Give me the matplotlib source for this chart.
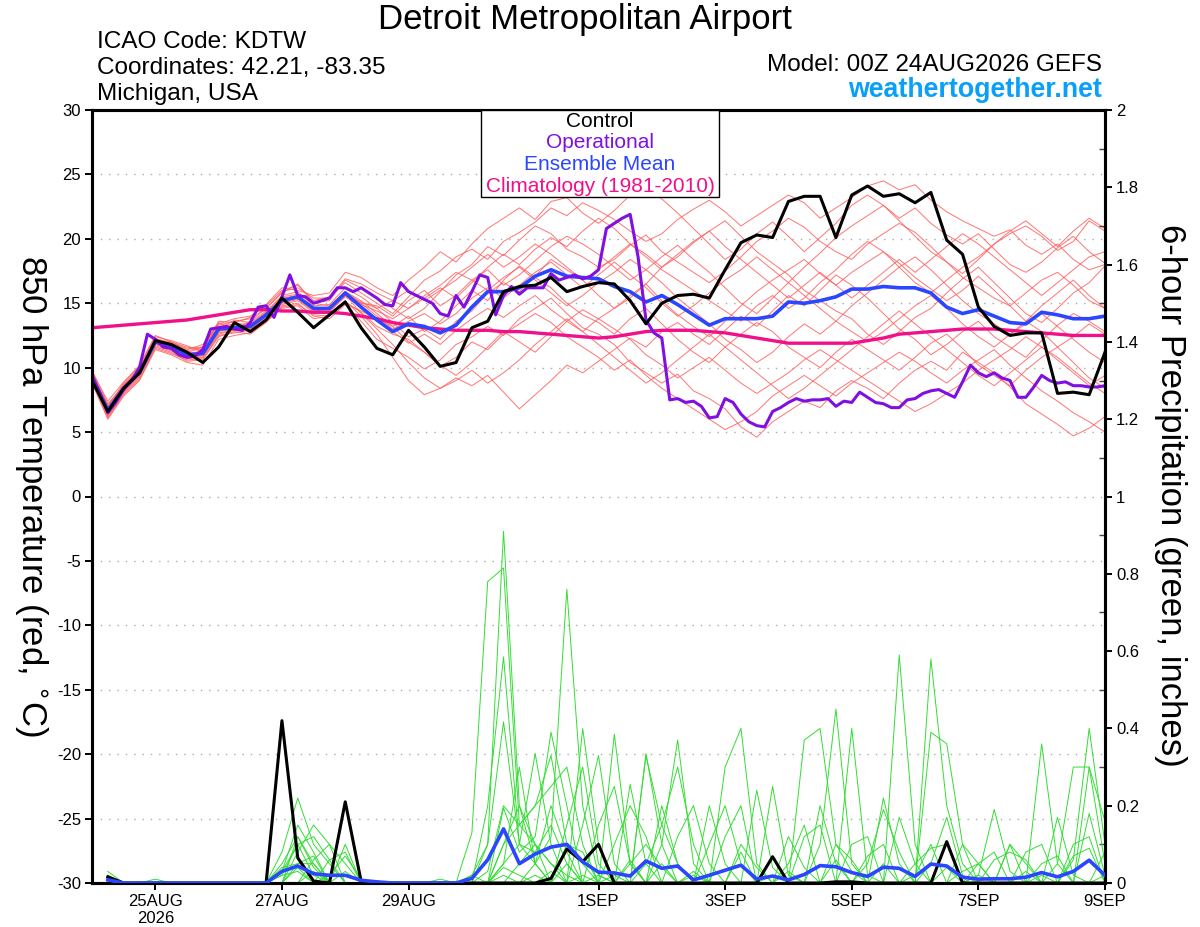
import numpy as np
import matplotlib
matplotlib.use('Agg')
import matplotlib.pyplot as plt
from matplotlib.patches import Rectangle

plt.rcParams['font.family'] = ['Liberation Sans', 'DejaVu Sans']
plt.rcParams['axes.unicode_minus'] = False

# forecast hours from 00Z 24AUG2026
hours6 = np.arange(0, 385, 6)        # temperature, 6-hourly
hours3 = np.arange(0, 385, 3)        # operational run, 3-hourly
hours_p = np.arange(6, 385, 6)       # 6-hour precipitation totals

tick_hours = [24, 72, 120, 192, 240, 288, 336, 384]
tick_labels = ['25AUG\n2026', '27AUG', '29AUG', '1SEP', '3SEP', '5SEP', '7SEP', '9SEP']

# ---- 850 hPa temperature (C) ----
control_t = [9.0, 6.6, 8.4, 9.6, 12.1, 11.8, 11.2, 10.4, 11.6, 13.5, 12.8, 13.7, 15.4, 14.3, 13.1, 14.1, 15.1,
             13.1, 11.5, 11.0, 12.9, 11.6, 10.1, 10.4, 13.1, 13.6, 15.9, 16.3, 16.4, 17.0, 15.9, 16.3, 16.6,
             16.5, 15.2, 13.4, 15.0, 15.6, 15.7, 15.4, 17.6, 19.7, 20.3, 20.1, 22.9, 23.3, 23.3, 20.1, 23.4,
             24.1, 23.3, 23.5, 22.8, 23.6, 19.9, 18.8, 14.7, 13.2, 12.5, 12.7, 12.7, 8.0, 8.1, 7.9, 11.2]

mean_t = [9.3, 6.7, 8.4, 9.6, 12.0, 11.6, 11.0, 11.1, 13.0, 13.1, 13.2, 14.1, 15.2, 15.5, 14.6, 14.6, 15.8,
          14.7, 13.7, 12.8, 13.4, 13.2, 12.7, 13.3, 14.7, 15.9, 15.9, 16.2, 17.1, 17.6, 17.1, 17.0, 16.9,
          16.3, 15.9, 15.1, 15.6, 14.9, 14.1, 13.3, 13.8, 13.8, 13.8, 14.0, 15.1, 15.0, 15.2, 15.5, 16.1,
          16.1, 16.3, 16.2, 16.2, 15.8, 14.7, 14.2, 14.5, 14.0, 13.5, 13.4, 14.3, 14.1, 13.8, 13.8, 14.0]

clim_t = [13.1, 13.2, 13.3, 13.4, 13.5, 13.6, 13.7, 13.9, 14.1, 14.3, 14.5, 14.5, 14.4, 14.4, 14.3, 14.3, 14.2,
          14.0, 13.8, 13.5, 13.3, 13.1, 13.0, 12.9, 12.9, 12.9, 12.8, 12.8, 12.7, 12.6, 12.5, 12.4, 12.3,
          12.4, 12.6, 12.8, 12.9, 12.9, 12.9, 12.8, 12.7, 12.5, 12.3, 12.1, 11.9, 11.9, 11.9, 11.9, 11.9,
          12.1, 12.3, 12.6, 12.7, 12.8, 12.9, 13.0, 13.0, 13.0, 12.9, 12.8, 12.7, 12.6, 12.5, 12.5, 12.5]

oper_t = [9.4, 8.0, 6.5, 7.3, 8.3, 9.0, 10.0, 12.6, 12.2, 11.6,
          11.5, 11.0, 10.8, 10.9, 11.4, 13.0, 13.1, 13.2, 13.0, 12.9,
          13.5, 14.7, 14.8, 13.9, 15.5, 17.2, 15.6, 15.5, 15.0, 15.2,
          15.4, 16.2, 16.2, 15.9, 16.2, 15.8, 15.4, 14.9, 14.8, 16.6,
          15.9, 15.6, 15.3, 15.0, 14.2, 14.0, 15.6, 14.7, 15.9, 17.2,
          17.0, 14.1, 15.6, 16.3, 15.7, 16.2, 16.2, 16.2, 17.3, 16.8,
          17.0, 17.2, 16.9, 17.1, 17.6, 20.8, 21.2, 21.6, 21.9, 18.6,
          13.7, 12.7, 12.3, 7.5, 7.6, 7.3, 7.4, 7.0, 6.1, 6.2,
          7.6, 7.3, 6.4, 5.8, 5.5, 5.4, 6.6, 6.9, 7.3, 7.6,
          7.4, 7.5, 7.5, 7.6, 7.0, 7.4, 7.3, 8.1, 7.7, 7.3,
          7.2, 6.9, 6.9, 7.5, 7.6, 8.0, 8.2, 8.3, 8.0, 7.7,
          8.9, 10.2, 9.6, 9.3, 9.6, 9.2, 9.0, 7.7, 7.7, 8.5,
          9.4, 9.0, 8.8, 8.9, 8.6, 8.6, 8.5, 8.5, 8.6]

mem01 = [9.5, 7.0, 8.8, 10.2, 12.5, 12.0, 11.4, 11.8, 13.4, 13.8, 14.0, 14.8, 16.0, 16.4, 15.2, 15.5, 16.6,
         15.8, 15.0, 14.2, 15.5, 16.8, 17.5, 18.6, 19.2, 18.4, 19.8, 20.5, 21.3, 22.4, 21.8, 22.8, 22.2,
         21.5, 20.6, 19.8, 20.4, 21.5, 22.3, 23.0, 22.1, 21.0, 21.8, 22.6, 23.4, 22.8, 21.6, 22.4, 23.2,
         24.1, 24.5, 23.8, 24.2, 23.0, 22.1, 21.4, 20.8, 20.2, 20.7, 19.5, 18.8, 19.6, 18.4, 17.6, 18.0]
mem02 = [9.0, 6.2, 8.0, 9.2, 11.6, 11.2, 10.5, 10.6, 12.4, 12.8, 12.6, 13.5, 14.8, 15.0, 14.0, 13.8, 14.9,
         13.6, 12.2, 11.5, 10.8, 9.9, 10.6, 11.8, 12.4, 13.2, 12.5, 13.8, 14.6, 15.4, 14.2, 13.1, 12.6,
         11.8, 10.4, 9.6, 8.8, 9.5, 8.2, 7.6, 6.8, 5.4, 4.6, 5.8, 6.6, 7.4, 6.9, 8.2, 9.0,
         8.4, 7.6, 8.8, 9.8, 10.5, 9.8, 11.2, 10.4, 9.6, 8.5, 7.2, 6.4, 5.6, 4.7, 5.3, 6.2]
mem03 = [9.8, 7.2, 8.6, 9.8, 12.2, 12.0, 11.6, 11.4, 13.5, 13.0, 13.6, 14.6, 15.8, 16.5, 15.0, 15.2, 16.8,
         16.2, 15.4, 14.6, 13.8, 14.6, 15.9, 17.2, 18.0, 19.4, 18.7, 19.9, 21.0, 20.4, 19.2, 18.6, 17.8,
         18.4, 19.5, 20.3, 19.0, 18.2, 17.4, 16.6, 17.5, 18.6, 19.8, 20.6, 21.6, 20.9, 19.8, 19.0, 18.4,
         19.6, 20.4, 21.2, 20.5, 19.4, 18.2, 17.3, 18.4, 19.6, 20.4, 21.0, 20.2, 19.1, 19.8, 21.4, 20.6]
mem04 = [9.2, 6.8, 8.2, 9.4, 11.8, 11.4, 10.8, 10.9, 12.6, 12.9, 13.0, 13.8, 14.9, 15.2, 14.3, 14.2, 15.2,
         14.0, 12.6, 10.8, 9.0, 7.9, 8.4, 9.2, 8.6, 9.4, 8.1, 6.8, 7.9, 9.0, 10.2, 9.6, 10.5,
         11.4, 12.3, 11.6, 12.8, 13.5, 12.6, 11.8, 12.9, 14.0, 13.2, 14.4, 15.6, 14.8, 16.0, 17.2, 16.4,
         15.4, 14.2, 13.0, 12.2, 11.0, 11.8, 12.8, 13.6, 12.4, 11.6, 10.8, 12.1, 13.3, 14.2, 13.6, 12.8]
mem05 = [9.6, 6.5, 8.4, 9.9, 12.3, 11.8, 11.2, 11.5, 13.2, 13.4, 13.4, 14.3, 15.6, 15.9, 14.8, 14.9, 16.2,
         15.5, 14.6, 13.5, 12.4, 13.0, 12.2, 13.6, 14.4, 15.8, 16.6, 15.9, 17.1, 18.4, 17.6, 16.8, 15.6,
         14.6, 15.4, 16.5, 17.8, 18.6, 19.7, 20.6, 21.4, 20.2, 19.0, 18.1, 17.2, 16.0, 15.2, 14.4, 13.8,
         12.6, 11.8, 12.8, 13.9, 14.6, 15.8, 16.9, 17.8, 16.6, 15.4, 14.2, 13.5, 14.6, 15.8, 16.6, 17.9]
mem06 = [8.8, 6.0, 7.8, 9.0, 11.4, 11.0, 10.4, 10.2, 12.2, 12.5, 12.7, 13.6, 14.6, 14.8, 13.8, 14.0, 15.0,
         14.4, 13.8, 13.2, 14.0, 12.8, 13.6, 14.8, 16.0, 15.2, 16.8, 17.9, 17.0, 16.2, 15.0, 14.1, 13.5,
         12.6, 13.8, 14.6, 13.4, 12.2, 11.2, 10.4, 11.6, 12.6, 13.5, 12.8, 11.6, 10.8, 10.0, 11.2, 12.2,
         11.4, 10.6, 9.8, 10.8, 11.9, 12.6, 11.5, 10.2, 9.4, 8.6, 9.8, 10.8, 11.6, 10.4, 9.2, 8.4]
mem07 = [9.4, 6.9, 8.7, 10.0, 12.0, 11.9, 11.3, 11.6, 13.6, 13.5, 13.9, 14.9, 16.2, 16.0, 15.6, 15.8, 17.4,
         17.0, 16.2, 15.6, 16.8, 17.8, 19.0, 18.2, 19.6, 20.8, 21.6, 22.4, 21.5, 22.9, 23.2, 22.0, 21.2,
         22.2, 23.4, 24.0, 23.1, 22.0, 20.8, 19.6, 18.4, 19.2, 20.4, 21.3, 20.2, 19.0, 20.1, 21.2, 22.6,
         23.4, 22.6, 21.4, 20.2, 19.0, 18.2, 17.0, 16.2, 15.4, 14.8, 15.8, 16.8, 17.4, 16.4, 15.2, 14.6]
mem08 = [9.1, 6.4, 8.2, 9.5, 11.9, 11.5, 10.9, 11.0, 12.9, 13.2, 13.1, 14.0, 15.0, 15.3, 14.4, 14.4, 15.5,
         14.8, 13.6, 12.8, 11.9, 12.6, 11.8, 12.9, 13.8, 14.6, 13.9, 14.8, 15.6, 14.5, 13.6, 12.8, 13.8,
         14.6, 15.6, 16.5, 15.2, 14.1, 13.2, 12.4, 13.6, 14.8, 15.9, 16.8, 17.6, 18.4, 17.3, 16.4, 17.4,
         18.2, 19.0, 18.1, 17.0, 16.1, 15.2, 16.0, 17.1, 16.0, 14.8, 13.6, 12.8, 11.6, 12.4, 13.4, 12.6]
mem09 = [9.7, 7.4, 8.9, 10.1, 12.4, 12.1, 11.7, 11.2, 13.0, 13.7, 13.5, 14.4, 15.5, 15.7, 15.0, 14.8, 15.9,
         15.2, 14.2, 13.2, 12.0, 11.2, 10.1, 10.8, 12.0, 11.4, 12.6, 13.4, 14.2, 13.5, 12.4, 11.6, 10.8,
         9.8, 10.6, 9.4, 8.4, 7.6, 6.8, 6.0, 5.2, 5.8, 6.6, 7.8, 8.6, 9.4, 8.6, 7.8, 8.8,
         9.6, 10.4, 11.2, 10.5, 9.6, 8.8, 9.8, 10.6, 11.4, 10.2, 9.2, 8.2, 7.4, 6.5, 5.8, 5.0]
mem10 = [9.3, 6.6, 8.5, 9.7, 12.1, 11.7, 11.1, 11.3, 13.1, 13.3, 13.3, 14.2, 15.4, 15.6, 14.7, 14.5, 15.9,
         15.0, 14.8, 14.0, 15.2, 16.0, 14.8, 15.6, 16.8, 17.6, 16.4, 17.2, 18.3, 19.4, 20.2, 19.6, 18.8,
         17.8, 16.8, 17.6, 18.6, 19.5, 18.4, 17.4, 16.2, 15.0, 14.2, 15.4, 16.6, 17.8, 18.9, 20.1, 21.0,
         21.8, 22.6, 21.6, 22.4, 21.2, 20.3, 19.6, 20.4, 19.2, 18.0, 17.4, 18.2, 19.3, 20.2, 19.0, 18.1]
mem11 = [8.9, 6.1, 7.9, 9.1, 11.5, 11.1, 10.6, 10.7, 12.5, 12.7, 12.9, 13.7, 14.7, 14.9, 14.1, 14.0, 15.1,
         14.3, 13.2, 12.6, 12.2, 11.2, 10.2, 9.4, 10.4, 11.6, 12.8, 12.0, 11.2, 12.4, 13.6, 14.5, 13.8,
         13.0, 12.2, 11.0, 10.2, 9.2, 10.0, 10.8, 9.8, 8.8, 8.0, 8.8, 9.6, 10.6, 11.4, 10.6, 9.8,
         9.0, 8.2, 7.4, 6.6, 7.2, 8.0, 8.8, 9.8, 10.6, 11.4, 12.4, 11.6, 10.8, 9.8, 8.8, 8.0]
mem12 = [9.5, 7.1, 8.6, 9.9, 12.2, 11.9, 11.5, 11.6, 13.3, 13.6, 13.8, 14.6, 15.9, 16.2, 15.4, 15.4, 16.9,
         16.5, 15.8, 15.2, 14.6, 15.4, 16.2, 15.4, 16.6, 17.8, 18.8, 18.0, 19.2, 20.1, 19.4, 20.6, 21.6,
         20.8, 19.6, 18.6, 17.6, 16.8, 16.0, 15.2, 14.4, 13.6, 14.8, 15.6, 14.6, 15.4, 16.6, 17.6, 18.8,
         19.8, 19.0, 17.8, 16.6, 15.8, 16.8, 17.8, 18.6, 19.6, 20.6, 21.4, 20.4, 19.4, 20.6, 21.6, 20.8]
mem13 = [9.2, 6.3, 8.1, 9.3, 11.7, 11.3, 10.7, 10.8, 12.7, 12.9, 13.0, 13.9, 15.1, 15.4, 14.5, 14.3, 15.6,
         14.9, 14.4, 13.8, 14.6, 15.6, 16.4, 17.4, 16.8, 16.0, 17.0, 17.8, 16.8, 15.8, 14.8, 15.6, 16.6,
         17.4, 18.4, 17.6, 16.6, 15.4, 14.4, 13.4, 12.2, 11.4, 10.4, 11.2, 12.4, 13.4, 12.6, 13.6, 14.8,
         15.8, 16.8, 17.8, 18.6, 17.6, 16.4, 15.2, 14.2, 13.4, 12.6, 13.4, 14.2, 13.2, 12.2, 11.2, 10.4]
mem14 = [9.6, 6.8, 8.3, 9.6, 11.9, 11.6, 11.1, 11.2, 12.8, 13.0, 13.2, 14.2, 15.2, 15.6, 14.6, 14.7, 15.6,
         15.0, 14.0, 13.0, 13.6, 14.2, 13.4, 14.2, 15.4, 16.2, 15.4, 16.4, 17.4, 18.2, 17.2, 16.2, 17.2,
         18.2, 17.2, 16.2, 15.0, 14.0, 14.8, 15.8, 16.8, 17.6, 18.6, 17.6, 16.6, 15.6, 14.6, 13.6, 12.8,
         12.0, 12.8, 13.8, 14.8, 15.6, 14.6, 13.4, 12.4, 11.6, 12.6, 13.6, 14.8, 15.8, 16.8, 15.6, 14.6]
mem15 = [9.0, 6.6, 8.6, 9.8, 12.0, 11.7, 11.0, 11.0, 13.0, 13.2, 13.3, 14.1, 15.3, 15.5, 14.7, 14.6, 15.7,
         15.1, 14.6, 15.2, 16.0, 15.2, 16.0, 16.8, 17.8, 18.8, 17.8, 18.6, 19.6, 18.8, 17.8, 16.8, 17.6,
         18.6, 19.6, 18.8, 17.8, 18.8, 19.8, 20.6, 19.4, 18.4, 17.4, 16.4, 15.4, 16.4, 17.4, 16.4, 15.4,
         16.4, 17.4, 18.4, 17.4, 18.4, 19.4, 20.4, 19.6, 18.6, 17.6, 16.6, 15.6, 16.6, 17.6, 18.6, 19.0]
mem16 = [9.4, 6.7, 8.4, 9.6, 12.0, 11.5, 10.9, 11.0, 12.9, 13.0, 13.1, 14.0, 15.1, 15.4, 14.5, 14.5, 15.7,
         14.2, 13.0, 11.8, 10.4, 9.2, 8.4, 9.0, 9.8, 8.8, 9.6, 10.6, 11.8, 12.8, 13.8, 12.8, 11.8,
         10.8, 9.8, 8.8, 9.6, 10.6, 11.6, 12.6, 11.6, 10.6, 9.6, 8.6, 7.6, 8.4, 9.4, 10.4, 11.4,
         12.4, 13.4, 14.4, 13.4, 12.4, 11.4, 10.4, 9.4, 8.6, 9.6, 10.6, 11.6, 10.6, 9.6, 8.6, 9.4]
temp_members = [mem01, mem02, mem03, mem04, mem05, mem06, mem07, mem08,
                mem09, mem10, mem11, mem12, mem13, mem14, mem15, mem16]

# ---- 6-hour precipitation (inches), periods ending 06Z 24AUG ... 00Z 9SEP ----
control_p = [0.016, 0, 0, 0, 0, 0, 0, 0,
             0, 0, 0, 0.42, 0.065, 0.005, 0, 0.21,
             0.005, 0, 0, 0, 0, 0, 0, 0,
             0, 0, 0, 0, 0.012, 0.088, 0.055, 0.1,
             0, 0, 0, 0, 0, 0, 0, 0,
             0, 0, 0.068, 0, 0, 0, 0.003, 0.003,
             0, 0, 0, 0, 0, 0.107, 0, 0,
             0, 0, 0, 0, 0, 0, 0, 0]
mean_p = [0.008, 0, 0, 0, 0, 0, 0, 0,
          0, 0, 0, 0.03, 0.044, 0.024, 0.02, 0.02,
          0.007, 0.003, 0, 0, 0, 0, 0, 0.012,
          0.06, 0.14, 0.05, 0.075, 0.093, 0.1, 0.055, 0.028,
          0.026, 0.018, 0.057, 0.038, 0.044, 0.008, 0.02, 0.033,
          0.046, 0.01, 0.018, 0.008, 0.022, 0.045, 0.042, 0.027,
          0.017, 0.041, 0.038, 0.017, 0.049, 0.044, 0.015, 0.01,
          0.011, 0.011, 0.015, 0.027, 0.016, 0.03, 0.059, 0.02]

pm01 = [0.02, 0, 0, 0, 0, 0, 0, 0,
        0, 0, 0, 0.05, 0.12, 0.04, 0, 0,
        0, 0, 0, 0, 0, 0, 0, 0.02,
        0.1, 0.91, 0.2, 0.1, 0.05, 0.02, 0, 0,
        0, 0.05, 0.1, 0.04, 0, 0, 0, 0,
        0.08, 0, 0, 0, 0, 0.1, 0.45, 0.05,
        0, 0, 0, 0, 0.05, 0.17, 0.02, 0,
        0, 0, 0, 0, 0, 0.06, 0.4, 0.1]
pm02 = [0.01, 0, 0, 0, 0, 0, 0, 0,
        0, 0, 0, 0.08, 0.22, 0.1, 0.05, 0,
        0, 0, 0, 0, 0, 0, 0, 0.13,
        0.78, 0.815, 0.15, 0.2, 0.33, 0.1, 0.08, 0,
        0, 0, 0.33, 0.15, 0.05, 0, 0, 0,
        0, 0, 0, 0, 0.37, 0.4, 0.1, 0.03,
        0, 0, 0, 0, 0.39, 0.36, 0.1, 0,
        0, 0, 0, 0, 0.05, 0.3, 0.3, 0.05]
pm03 = [0, 0, 0, 0, 0, 0, 0, 0,
        0, 0, 0, 0.03, 0.15, 0.08, 0, 0.1,
        0, 0, 0, 0, 0, 0, 0, 0,
        0.2, 0.585, 0.1, 0.05, 0.12, 0.76, 0.2, 0.02,
        0, 0, 0, 0.1, 0.37, 0.05, 0, 0,
        0, 0, 0, 0, 0, 0, 0, 0.4,
        0.02, 0, 0, 0, 0, 0, 0, 0.02,
        0.19, 0.03, 0, 0, 0, 0, 0, 0.02]
pm04 = [0, 0, 0, 0, 0, 0, 0, 0,
        0, 0, 0, 0, 0.08, 0.15, 0.1, 0,
        0, 0, 0, 0, 0, 0, 0, 0,
        0.1, 0.417, 0.1, 0.335, 0.1, 0, 0.4, 0.1,
        0, 0, 0, 0, 0, 0, 0, 0.3,
        0.4, 0.05, 0, 0, 0, 0, 0, 0,
        0, 0, 0.59, 0.1, 0, 0, 0, 0,
        0, 0, 0, 0.36, 0.05, 0, 0, 0]
pm05 = [0, 0, 0, 0, 0, 0, 0, 0,
        0, 0, 0, 0.02, 0.1, 0.12, 0.06, 0.08,
        0, 0, 0, 0, 0, 0, 0, 0,
        0, 0.194, 0.08, 0.12, 0.39, 0.2, 0, 0,
        0.385, 0.05, 0, 0, 0, 0, 0, 0,
        0, 0, 0.25, 0.02, 0, 0, 0, 0,
        0, 0, 0, 0, 0.58, 0.2, 0.05, 0,
        0, 0, 0, 0, 0, 0, 0.18, 0.02]
pm06 = [0, 0, 0, 0, 0, 0, 0, 0,
        0, 0, 0, 0, 0, 0.06, 0.1, 0.05,
        0, 0, 0, 0, 0, 0, 0, 0.02,
        0, 0.1, 0.15, 0.2, 0.25, 0.3, 0.1, 0,
        0, 0.255, 0.05, 0, 0, 0, 0.2, 0.05,
        0, 0, 0, 0, 0, 0, 0, 0,
        0, 0.22, 0.05, 0, 0, 0, 0, 0,
        0, 0.1, 0.05, 0, 0, 0, 0, 0]
pm07 = [0.03, 0, 0, 0, 0, 0, 0, 0,
        0, 0, 0, 0, 0.05, 0.07, 0, 0,
        0, 0, 0, 0, 0, 0, 0, 0,
        0, 0.1, 0.2, 0.05, 0, 0.15, 0.3, 0.05,
        0, 0, 0.335, 0.1, 0, 0.02, 0, 0,
        0, 0.24, 0.04, 0, 0, 0.2, 0.05, 0,
        0, 0, 0, 0.02, 0.1, 0, 0, 0.05,
        0.08, 0, 0, 0, 0.17, 0.02, 0, 0]
pm08 = [0, 0, 0, 0, 0, 0, 0, 0,
        0, 0, 0, 0.04, 0.05, 0.05, 0, 0.03,
        0, 0, 0, 0, 0, 0, 0, 0,
        0, 0.05, 0.1, 0.08, 0.15, 0.05, 0, 0,
        0.1, 0.2, 0.12, 0, 0, 0, 0, 0.12,
        0.2, 0, 0, 0, 0.12, 0.15, 0, 0,
        0.05, 0.19, 0.08, 0, 0, 0, 0, 0,
        0, 0, 0.08, 0.1, 0, 0, 0.3, 0.16]
pm09 = [0, 0, 0, 0, 0, 0, 0, 0,
        0, 0, 0, 0, 0.12, 0.05, 0, 0,
        0, 0, 0, 0, 0, 0.01, 0, 0,
        0, 0.05, 0.3, 0.05, 0, 0, 0.15, 0.33,
        0.05, 0, 0, 0, 0.12, 0.2, 0.05, 0,
        0, 0, 0, 0.05, 0.15, 0, 0, 0.1,
        0.12, 0, 0, 0, 0, 0, 0.1, 0.05,
        0, 0, 0, 0, 0, 0.1, 0.12, 0]
pm10 = [0, 0, 0, 0.01, 0, 0, 0, 0,
        0, 0, 0, 0.02, 0.03, 0, 0.02, 0.07,
        0.01, 0, 0, 0, 0, 0, 0, 0,
        0, 0, 0.05, 0.1, 0.05, 0, 0, 0.15,
        0.25, 0.05, 0, 0.2, 0.05, 0, 0, 0,
        0.1, 0.04, 0, 0, 0, 0, 0.1, 0.06,
        0, 0, 0, 0.05, 0.09, 0.1, 0, 0,
        0, 0.1, 0, 0.05, 0.07, 0, 0, 0]
pm11 = [0, 0, 0, 0, 0, 0, 0, 0,
        0, 0, 0, 0.03, 0.1, 0.02, 0, 0,
        0, 0, 0, 0, 0, 0, 0, 0,
        0.03, 0.2, 0.15, 0.1, 0, 0.1, 0.05, 0,
        0, 0, 0.05, 0.15, 0.3, 0.1, 0, 0,
        0, 0, 0, 0.12, 0.04, 0, 0, 0,
        0.07, 0.1, 0, 0, 0, 0, 0, 0,
        0.06, 0.08, 0.06, 0, 0, 0, 0, 0.08]
pm12 = [0, 0, 0, 0, 0, 0, 0, 0,
        0, 0, 0, 0, 0.04, 0, 0.06, 0,
        0, 0, 0, 0, 0, 0, 0, 0,
        0, 0.02, 0, 0.05, 0.2, 0.08, 0, 0,
        0, 0.06, 0, 0, 0, 0, 0.1, 0.2,
        0.05, 0, 0, 0, 0, 0, 0, 0,
        0, 0, 0.17, 0.05, 0, 0, 0.03, 0.05,
        0, 0, 0, 0, 0, 0.07, 0.09, 0]
pm13 = [0, 0, 0, 0, 0, 0, 0, 0,
        0, 0, 0, 0, 0, 0, 0, 0,
        0, 0, 0, 0, 0, 0, 0, 0,
        0, 0.04, 0.02, 0, 0.03, 0, 0.02, 0,
        0.02, 0, 0, 0.05, 0, 0, 0, 0,
        0, 0, 0, 0.03, 0, 0, 0, 0,
        0, 0.05, 0, 0, 0, 0, 0, 0.02,
        0, 0, 0, 0.02, 0, 0, 0, 0]
pm14 = [0.015, 0, 0, 0, 0, 0, 0, 0,
        0, 0, 0, 0, 0, 0.03, 0, 0,
        0, 0, 0, 0, 0, 0, 0, 0,
        0, 0, 0, 0.02, 0, 0.05, 0, 0.02,
        0, 0, 0, 0, 0, 0.03, 0, 0,
        0, 0, 0.02, 0, 0, 0, 0.06, 0,
        0, 0, 0, 0, 0, 0.04, 0, 0,
        0, 0, 0.03, 0, 0, 0, 0, 0]
precip_members = [pm01, pm02, pm03, pm04, pm05, pm06, pm07,
                  pm08, pm09, pm10, pm11, pm12, pm13, pm14]

RED = '#ff5c5c'
GREEN = '#33dd33'
PURPLE = '#8010e0'
BLUE = '#2a46ff'
PINK = '#f0108a'

fig = plt.figure(figsize=(12, 9.27), dpi=100)
ax = fig.add_axes([92 / 1200, 44 / 927, 1013 / 1200, 773 / 927])
ax2 = ax.twinx()

# temperature
for m in temp_members:
    ax.plot(hours6, m, color=RED, lw=0.7, alpha=0.85, zorder=2)
ax.plot(hours6, clim_t, color=PINK, lw=2.4, zorder=3)
ax.plot(hours6, mean_t, color=BLUE, lw=2.6, zorder=4)
ax.plot(hours3, oper_t, color=PURPLE, lw=2.2, zorder=5)
ax.plot(hours6, control_t, color='black', lw=2.2, zorder=6)

# precipitation
for m in precip_members:
    ax2.plot(hours_p, m, color=GREEN, lw=0.7, zorder=2)
ax2.plot(hours_p, control_p, color='black', lw=2.2, zorder=4)
ax2.plot(hours_p, mean_p, color=BLUE, lw=2.6, zorder=5)

ax.set_xlim(0, 384)
ax.set_ylim(-30, 30)
ax2.set_ylim(0, 2)

ax.set_yticks(np.arange(-30, 31, 5))
ax.set_yticklabels([str(v) for v in range(-30, 31, 5)])
for v in range(-25, 30, 5):
    ax.axhline(v, color='#aaaaaa', lw=1.0, ls=(0, (1, 5)), zorder=1)

rticks = np.arange(0, 2.01, 0.2)
ax2.set_yticks(rticks)
ax2.set_yticklabels(['%g' % round(v, 1) for v in rticks])
ax2.set_yticks(np.arange(0.1, 2.0, 0.2), minor=True)

ax.set_xticks(tick_hours)
ax.set_xticklabels(tick_labels, linespacing=1.15)

for a in (ax, ax2):
    for s in a.spines.values():
        s.set_linewidth(2.2)
ax.tick_params(axis='both', labelsize=12, direction='out', length=5, width=1.4, pad=3)
ax2.tick_params(axis='y', which='major', labelsize=12, direction='out', length=5, width=1.4, pad=3)
ax2.tick_params(axis='y', which='minor', direction='in', length=4, width=1.0, color='#444444')

# axis titles (both read top to bottom)
fig.text(31 / 1200, 1 - 496 / 927, '850 hPa Temperature (red, $^{\\circ}$C)', rotation=270,
         ha='center', va='center', fontsize=25)
fig.text(1171 / 1200, 1 - 495 / 927, '6-hour Precipitation (green, inches)', rotation=270,
         ha='center', va='center', fontsize=25)

# header texts
fig.text(585 / 1200, 1 - 29 / 927, 'Detroit Metropolitan Airport', ha='center', va='baseline', fontsize=25)
fig.text(97 / 1200, 1 - 48 / 927, 'ICAO Code: KDTW', ha='left', va='baseline', fontsize=17.6)
fig.text(97 / 1200, 1 - 74 / 927, 'Coordinates: 42.21, -83.35', ha='left', va='baseline', fontsize=17.6)
fig.text(97 / 1200, 1 - 100 / 927, 'Michigan, USA', ha='left', va='baseline', fontsize=17.6)
fig.text(1102 / 1200, 1 - 71 / 927, 'Model: 00Z 24AUG2026 GEFS', ha='right', va='baseline', fontsize=17.5)
fig.text(1102 / 1200, 1 - 97 / 927, 'weathertogether.net', ha='right', va='baseline',
         fontsize=19.3, fontweight='bold', color='#0aa0f8')

# legend box
fig.add_artist(Rectangle((481 / 1200, 1 - 197 / 927), 238 / 1200, 87 / 927,
                         transform=fig.transFigure, facecolor='white', edgecolor='black', lw=1.0, zorder=10))
legend_items = [('Control', 'black'), ('Operational', PURPLE),
                ('Ensemble Mean', BLUE), ('Climatology (1981-2010)', PINK)]
for k, (txt, col) in enumerate(legend_items):
    fig.text(600 / 1200, 1 - (127 + 21.5 * k) / 927, txt, ha='center', va='baseline',
             fontsize=15, color=col, zorder=11)

fig.savefig('out.png', dpi=100)
